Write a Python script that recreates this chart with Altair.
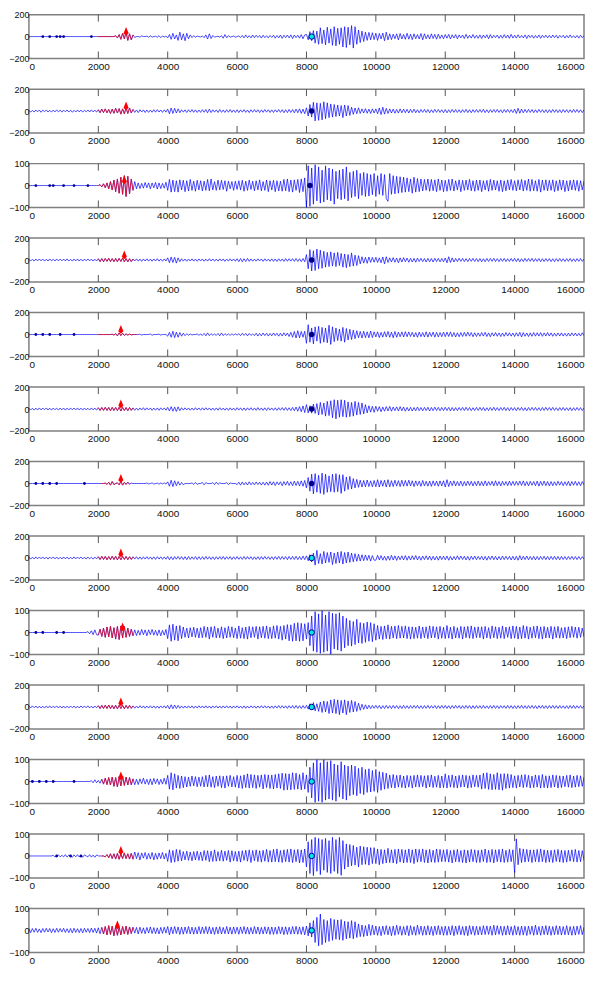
import altair as alt
import pandas as pd

# sample positions of every trace (one value every 50 samples)
sample_x = list(range(0, 16001, 50))
x_ticks = [0, 2000, 4000, 6000, 8000, 10000, 12000, 14000, 16000]

Z20 = [0, 0, 0, 0, 0, 0, 0, 0, 0, 0, 0, 0, 0, 0, 0, 0, 0, 0, 0, 0]

T1 = (Z20 + Z20 + [
    0,0,0,0,0,0,0,0,0,0, 8,-12,18,-25,30,-20,40,-35,25,-30,
    15,-8,0,0,-5,6,0,0,4,-6, 8,-5,0,3,-6,8,-10,6,-4,5,
    -12,18,-25,30,-22,15,-35,40,-30,25, -38,30,-20,15,-10,8,-6,5,0,-4,
    6,-10,15,-22,25,-18,10,-6,0,3, -5,8,-15,18,-12,8,-5,0,4,-6,
    0,5,-8,10,-12,15,-10,8,-12,14, -10,12,-8,10,-14,12,-10,8,-12,10,
    -8,12,-15,10,-12,14,-16,12,-10,14, -12,15,-18,14,-10,12,-15,18,-20,15,
    20,-30,45,-38,55,-60,50,-70,80,-65, 60,-75,85,-60,70,-80,90,-85,75,-70,
    80,-95,90,-100,85,-75,100,-105,90,-70, 60,-55,50,-45,40,-35,38,-30,35,-28,
    30,-35,28,-22,32,-38,40,-30,25,-28, 22,-20,25,-30,28,-22,20,-25,30,-24,
    22,-28,25,-20,18,-22,28,-30,25,-20, 16,-22,25,-18,20,-24,22,-18,15,-20,
    18,-15,20,-22,16,-14,18,-20,15,-12, 14,-18,20,-16,12,-14,18,-15,12,-16,
    15,-18,14,-12,16,-20,18,-14,12,-10, 14,-16,12,-15,18,-12,14,-16,20,-14,
    12,-14,16,-12,10,-12,15,-18,14,-10, 12,-15,10,-12,14,-16,12,-10,13,-12,
    10,-12,14,-10,12,-15,10,-8,12,-14, 10,-12,15,-10,8,-12,10,-14,12,-10,
    8])
T2 = [
    8,-10,6,-9,10,-7,9,-11,8,-6, 10,-9,7,-10,9,-8,11,-7,8,-10,
    9,-7,10,-9,8,-11,7,-9,10,-8, 9,-10,8,-7,10,-9,11,-8,9,-10,
    12,-15,18,-14,20,-16,15,-22,18,-20, 25,-18,22,-28,20,-25,30,-22,28,-18,
    15,-12,10,-14,12,-9,11,-13,10,-12, 9,-11,12,-10,13,-9,10,-12,11,-10,
    18,-25,28,-22,25,-18,20,-15,12,-10, 11,-13,12,-10,14,-12,11,-13,10,-12,
    13,-11,14,-16,18,-14,12,-10,11,-13, 14,-12,10,-13,12,-11,14,-12,10,-13,
    12,-14,11,-10,13,-12,10,-14,12,-11, 13,-10,12,-14,11,-12,14,-10,12,-13,
    11,-13,12,-10,14,-12,13,-15,12,-14, 15,-13,14,-16,18,-15,20,-22,18,-25,
    30,-45,60,-55,80,-90,75,-85,70,-80, 85,-70,75,-60,65,-55,60,-50,55,-45,
    50,-60,55,-45,50,-40,35,-30,28,-25, 30,-22,20,-18,22,-20,18,-22,20,-18,
    20,-25,28,-32,35,-28,25,-22,20,-18, 18,-20,15,-18,20,-16,18,-15,16,-18,
    16,-14,18,-15,12,-16,14,-12,15,-13, 14,-16,12,-14,15,-12,14,-13,12,-15,
    14,-16,12,-14,15,-12,14,-13,12,-15, 13,-12,16,-14,12,-15,13,-12,14,-12,
    14,-12,16,-14,12,-15,13,-12,14,-12, 15,-13,12,-16,14,-12,15,-13,12,-14,
    18,-22,25,-20,18,-16,15,-14,16,-13, 14,-15,12,-14,15,-12,13,-14,12,-15,
    12,-14,15,-12,13,-14,12,-15,14,-12, 13,-14,12,-13,15,-12,14,-13,12,-14,
    10]
T3 = (Z20 + Z20 + [
    0,4,-6,8,-10,12,-15,18,-20,25, -28,30,-35,38,-40,45,-50,42,-38,30,
    -22,18,-15,12,-14,10,-12,14,-10,12, -15,12,-10,14,-16,12,-14,10,-12,15,
    -22,28,-30,25,-28,22,-30,26,-20,24, -28,22,-25,28,-22,20,-26,24,-20,22,
    -25,20,-22,28,-24,30,-20,18,-22,25, -20,24,-18,22,-26,20,-15,18,-22,20,
    -18,22,-20,24,-26,20,-22,25,-18,20, -24,22,-20,26,-24,18,-22,25,-28,22,
    -20,24,-28,22,-25,20,-26,28,-24,30, -28,25,-30,26,-22,28,-32,30,-28,35,
    -100,90,-95,80,-85,95,-70,85,-80,70, -75,90,-65,80,-70,75,-85,65,-60,70,
    -65,75,-60,85,-70,60,-55,65,-50,70, -60,55,-45,60,-50,55,-48,50,-42,55,
    -50,45,-40,55,-45,50,-60,-72,55,-40, 45,-38,42,-35,40,-32,38,-30,35,-28,
    30,-35,38,-30,32,-28,30,-25,28,-22, 30,-26,28,-24,26,-28,30,-22,25,-28,
    24,-26,28,-22,30,-25,22,-20,26,-28, 24,-22,25,-20,28,-24,22,-26,25,-22,
    25,-28,22,-20,24,-26,28,-22,25,-20, 22,-26,25,-28,22,-24,26,-20,28,-22,
    22,-24,26,-20,28,-25,24,-22,30,-26, 28,-24,22,-26,28,-30,25,-22,26,-24,
    24,-22,26,-28,22,-24,26,-20,25,-28, 22,-25,24,-20,26,-22,24,-26,22,-20,
    20])
T4 = [
    8,-9,7,-10,9,-8,10,-7,9,-10, 8,-9,10,-8,7,-9,10,-8,9,-7,
    9,-8,10,-9,7,-10,9,-8,10,-9, 8,-10,9,-7,10,-8,9,-10,8,-9,
    12,-14,13,-15,14,-12,16,-14,13,-15, 14,-16,15,-13,18,-15,14,-16,12,-14,
    10,-9,11,-10,9,-12,10,-9,11,-10, 9,-11,10,-9,12,-10,9,-11,10,-9,
    20,-25,28,-22,25,-28,20,-15,12,-10, 9,-11,10,-9,11,-10,9,-11,10,-9,
    10,-11,9,-10,12,-9,10,-11,9,-10, 11,-9,10,-12,9,-10,11,-9,10,-11,
    12,-15,14,-16,12,-14,15,-12,10,-11, 9,-10,11,-9,10,-12,11,-10,9,-11,
    11,-12,10,-13,12,-11,10,-12,13,-11, 12,-10,13,-12,14,-13,12,-15,14,-16,
    50,-80,95,-100,85,-95,100,-80,90,-75, 80,-65,70,-60,75,-55,65,-60,70,-50,
    60,-65,55,-70,50,-60,65,-55,45,-50, 40,-35,30,-28,25,-30,28,-22,25,-20,
    25,-22,20,-25,28,-35,30,-22,20,-18, 22,-20,18,-25,20,-18,22,-16,18,-20,
    16,-18,15,-20,18,-14,16,-15,14,-18, 15,-16,14,-18,16,-14,15,-17,14,-16,
    18,-25,30,-22,20,-18,15,-14,16,-12, 15,-14,13,-15,14,-12,15,-13,14,-15,
    14,-16,12,-15,14,-13,15,-12,16,-14, 13,-15,14,-12,15,-14,12,-13,14,-12,
    16,-15,14,-16,12,-14,15,-13,14,-12, 15,-14,13,-12,14,-15,12,-14,13,-12,
    13,-14,12,-15,13,-12,14,-13,12,-14, 13,-12,14,-13,12,-14,13,-12,14,-13,
    10]
T5 = (Z20 + Z20 + [
    0,0,0,0,0,0,0,0,3,-5, 8,-12,15,-10,12,-8,6,-5,4,-3,
    0,0,0,0,4,-5,0,0,0,0, 5,-6,0,0,0,4,-5,0,0,0,
    -15,20,-25,30,-28,22,-25,18,-15,12, -10,8,-6,5,-4,0,0,5,-6,4,
    -8,10,-12,15,-10,8,-6,5,-8,10, -12,14,-10,8,-6,5,-8,6,-5,6,
    -5,8,-10,12,-8,10,-12,10,-8,6, -10,12,-14,10,-12,14,-10,12,-14,10,
    -12,14,-10,12,-15,12,-14,16,-12,14, -18,20,-25,28,-32,35,-30,28,-25,30,
    -80,90,-70,60,-85,70,-60,75,-80,65, -70,60,-75,85,-90,70,-65,60,-55,50,
    -60,65,-70,55,-50,48,-45,40,-38,35, -30,28,-32,30,-28,25,-30,32,-28,25,
    -22,25,-28,20,-24,26,-22,28,-25,22, -30,28,-25,22,-20,24,-22,26,-20,24,
    -18,20,-22,18,-25,22,-20,18,-22,25, -24,20,-18,22,-24,20,-22,18,-20,22,
    -20,22,-18,24,-20,18,-22,16,-20,18, -18,20,-16,22,-15,18,-20,16,-18,15,
    -16,18,-14,20,-18,15,-20,16,-14,18, -16,15,-18,14,-16,18,-14,16,-15,14,
    -18,16,-15,20,-22,18,-16,14,-18,15, -16,18,-15,16,-14,18,-16,15,-14,18,
    -14,15,-16,12,-15,14,-13,15,-14,12, -15,13,-14,15,-12,14,-13,12,-14,16,
    -10])
T6 = [
    8,-9,7,-10,8,-9,10,-8,9,-7, 10,-9,8,-10,9,-7,8,-10,9,-8,
    9,-10,8,-9,10,-7,9,-8,10,-9, 8,-10,9,-8,7,-9,10,-8,9,-10,
    12,-13,14,-12,15,-13,14,-16,15,-13, 14,-15,16,-18,15,-14,13,-15,14,-12,
    10,-12,9,-11,10,-9,12,-10,11,-9, 10,-12,9,-11,10,-12,11,-9,10,-11,
    15,-18,22,-20,18,-22,20,-15,12,-10, 11,-9,10,-11,9,-10,12,-9,10,-11,
    11,-10,12,-9,10,-11,9,-12,10,-11, 12,-10,9,-11,10,-12,11,-10,9,-12,
    12,-10,11,-12,10,-13,11,-10,12,-11, 10,-12,13,-11,10,-12,11,-13,12,-10,
    10,-12,11,-13,12,-11,13,-12,14,-13, 12,-14,15,-16,18,-20,22,-25,28,-32,
    40,-35,30,-38,45,-40,50,-55,60,-50, 55,-65,70,-60,75,-80,85,-90,80,-75,
    85,-70,80,-75,65,-70,60,-65,70,-55, 60,-50,55,-45,40,-35,30,-28,25,-30,
    25,-20,22,-25,18,-20,22,-18,24,-20, 18,-15,20,-18,22,-16,18,-20,15,-18,
    16,-18,14,-16,18,-15,14,-17,15,-14, 16,-18,14,-15,17,-14,15,-16,14,-15,
    16,-14,15,-18,14,-16,13,-15,14,-12, 15,-14,16,-13,14,-15,12,-14,15,-13,
    15,-13,14,-16,12,-15,14,-13,16,-14, 13,-15,14,-12,15,-14,13,-16,14,-12,
    13,-15,14,-12,15,-14,12,-16,14,-13, 15,-12,14,-13,12,-15,14,-13,15,-12,
    14,-12,15,-13,12,-14,13,-12,14,-13, 12,-14,13,-15,12,-13,14,-12,13,-14,
    10]
T7 = (Z20 + Z20 + [
    0,0,0,0,4,-8,12,-15,18,-10, 0,6,-12,20,-15,10,-8,12,-6,4,
    0,0,0,0,0,0,0,0,5,-4, 0,6,-5,0,4,-6,5,-4,6,-5,
    15,-25,30,-28,25,-20,18,-15,10,-12, 0,0,0,0,6,-8,10,-8,0,0,
    10,-12,8,0,0,0,8,-10,12,-8, 6,0,0,0,8,-10,6,0,0,0,
    -10,12,-15,14,-12,10,-14,16,-12,10, -12,14,-10,12,-14,12,-15,14,-16,18,
    -14,16,-18,15,-12,16,-20,18,-15,20, -18,16,-20,22,-18,20,-22,24,-25,28,
    -40,55,-70,85,-95,90,-80,75,-90,95, -100,85,-80,70,-75,85,-80,90,-75,80,
    -90,80,-70,60,-55,65,-50,45,-40,38, -35,30,-32,28,-30,32,-28,25,-30,28,
    -30,35,-32,28,-25,30,-32,35,-30,26, -28,30,-24,26,-28,30,-25,28,-24,30,
    -22,25,-28,24,-20,22,-26,28,-22,20, -24,22,-26,24,-20,22,-25,24,-22,25,
    -32,35,-28,22,-20,24,-22,18,-20,22, -24,18,-20,22,-18,20,-22,18,-20,22,
    -20,18,-22,24,-20,18,-16,20,-22,25, -20,18,-22,20,-16,18,-20,22,-18,20,
    -18,20,-16,22,-18,24,-20,18,-22,20, -16,18,-20,22,-24,20,-18,22,-20,18,
    -22,18,-20,16,-18,20,-15,18,-20,16, -18,20,-22,18,-16,20,-18,16,-20,18,
    -12])
T8 = [
    8,-10,7,-9,10,-8,9,-7,10,-9, 8,-10,9,-7,10,-8,9,-10,7,-9,
    10,-8,9,-10,7,-9,10,-8,9,-7, 10,-9,8,-10,9,-8,7,-10,9,-8,
    12,-14,15,-13,14,-16,13,-15,16,-14, 15,-17,14,-16,15,-13,14,-15,12,-13,
    11,-10,12,-11,10,-12,11,-10,12,-11, 10,-12,11,-13,12,-10,11,-12,10,-11,
    14,-16,12,-15,13,-11,14,-12,13,-14, 12,-15,14,-13,11,-12,13,-14,12,-13,
    12,-13,14,-11,12,-13,11,-14,12,-11, 13,-12,14,-13,12,-11,13,-14,11,-12,
    13,-12,11,-13,14,-12,13,-11,12,-14, 11,-13,12,-14,13,-12,14,-11,12,-13,
    12,-14,13,-12,15,-13,14,-12,13,-15, 14,-13,15,-14,16,-15,14,-16,18,-15,
    20,-25,30,-35,45,-65,70,-50,40,-55, 60,-45,50,-40,55,-60,45,-50,55,-45,
    60,-55,50,-45,55,-40,45,-35,40,-30, 35,-28,30,-25,28,-22,25,-28,22,-20,
    -20,25,-18,22,-20,16,-22,18,-20,24, -18,20,-22,18,-16,20,-18,22,-20,18,
    -18,20,-15,22,-18,16,-20,18,-15,20, -16,18,-20,15,-18,16,-20,18,-15,16,
    -16,18,-20,15,-18,14,-16,20,-15,18, -14,16,-18,15,-20,16,-14,18,-16,15,
    -14,16,-18,15,-20,16,-14,18,-16,15, -18,14,-16,18,-15,16,-14,15,-18,16,
    -18,16,-20,22,-18,16,-15,18,-16,14, -16,15,-18,14,-16,15,-14,16,-15,14,
    -16,15,-14,16,-15,14,-16,15,-14,13, -15,14,-13,15,-14,13,-15,14,-13,12,
    -10]
T9 = (Z20 + [
    0,0,0,0,0,0,0,0,0,0, 0,0,0,0,4,-6,8,-10,12,-10,
    -12,15,-18,20,-22,25,-20,28,-25,22, -30,28,-32,30,-25,28,-22,20,-18,15,
    -15,12,-14,10,-12,14,-10,12,-15,12, -10,14,-12,10,-14,12,-15,10,-12,14,
    -28,35,-40,38,-35,30,-38,32,-28,25, -22,20,-25,22,-20,24,-22,20,-25,22,
    -24,28,-22,25,-30,26,-22,28,-25,20, -24,26,-28,22,-25,28,-22,26,-24,20,
    -28,30,-26,22,-28,25,-30,28,-24,26, -22,28,-30,26,-24,28,-26,30,-28,24,
    -28,30,-26,32,-30,28,-35,32,-30,36, -38,35,-40,42,-38,45,-40,42,-38,40,
    -30,45,-60,75,-85,95,-90,85,-95,100, -90,80,-85,95,-100,88,-75,85,-80,90,
    -85,75,-70,65,-60,55,-62,50,-55,60, -48,45,-50,42,-45,48,-40,45,-42,40,
    -35,32,-30,28,-32,30,-28,35,-30,28, -25,30,-28,32,-26,28,-25,30,-28,26,
    -30,26,-28,24,-26,30,-28,25,-24,26, -28,30,-25,28,-24,26,-30,28,-26,24,
    -28,32,-26,24,-30,28,-25,22,-26,28, -30,26,-24,28,-26,30,-28,25,-24,26,
    -24,26,-30,28,-25,22,-28,30,-24,26, -28,24,-26,30,-28,25,-22,26,-28,30,
    -26,28,-30,25,-28,32,-26,28,-30,24, -26,28,-24,30,-28,26,-30,28,-25,24,
    -25,28,-30,26,-24,28,-26,22,-25,24, -28,26,-24,28,-22,25,-26,24,-22,20,
    -20])
T10 = [
    8,-9,10,-7,9,-10,8,-9,7,-10, 9,-8,10,-9,8,-7,10,-9,8,-10,
    9,-10,8,-9,10,-7,9,-10,8,-9, 10,-8,9,-7,10,-9,8,-10,9,-8,
    12,-14,15,-13,16,-14,18,-15,14,-16, 15,-17,16,-14,15,-16,14,-13,15,-12,
    10,-11,9,-10,12,-9,10,-11,9,-10, 11,-9,10,-12,9,-11,10,-9,11,-10,
    15,-18,20,-16,18,-14,15,-12,10,-11, 9,-10,11,-9,10,-11,9,-10,11,-9,
    10,-9,11,-10,9,-11,10,-9,11,-10, 9,-11,10,-9,11,-10,9,-11,10,-9,
    11,-10,9,-11,10,-12,9,-10,11,-9, 10,-11,9,-10,12,-9,11,-10,9,-11,
    10,-12,11,-10,13,-11,12,-10,11,-13, 12,-11,13,-12,14,-13,12,-14,13,-12,
    15,-20,30,-25,40,-35,30,-40,45,-50, 55,-45,50,-60,65,-55,70,-60,65,-70,
    60,-55,65,-70,55,-50,60,-45,50,-40, 35,-30,25,-22,20,-18,16,-15,14,-12,
    15,-12,14,-16,12,-14,15,-13,12,-15, 14,-12,13,-15,12,-14,15,-13,12,-14,
    13,-12,14,-11,15,-13,12,-14,13,-12, 14,-13,12,-11,13,-14,12,-13,14,-12,
    14,-13,12,-15,13,-12,14,-11,13,-14, 12,-13,14,-12,13,-15,12,-14,13,-12,
    12,-13,14,-12,11,-14,13,-12,14,-13, 12,-14,13,-11,12,-13,14,-12,13,-14,
    12,-14,13,-12,15,-13,12,-14,13,-12, 14,-13,12,-15,13,-12,14,-13,12,-14,
    13,-12,14,-13,12,-14,13,-12,11,-13, 12,-14,13,-12,14,-13,12,-11,13,-12,
    10]
T11 = (Z20 + [
    0,0,0,0,0,0,0,0,0,0, 0,0,0,0,0,0,4,-6,8,-6,
    5,-8,10,-12,15,-14,18,-16,20,-22, 18,-25,22,-20,25,-18,20,-16,18,-15,
    12,-15,10,-14,12,-10,15,-12,10,-14, 12,-15,14,-10,12,-14,10,-12,15,-13,
    28,-35,40,-38,35,-30,28,-32,25,-28, 22,-25,20,-22,25,-20,22,-24,20,-22,
    22,-25,28,-24,30,-26,22,-28,25,-22, 26,-28,24,-30,26,-22,28,-25,22,-26,
    28,-30,26,-32,30,-28,35,-30,32,-28, 30,-32,28,-26,30,-34,32,-28,30,-32,
    30,-34,32,-30,35,-32,38,-40,36,-38, 35,-38,40,-36,38,-35,32,-38,40,-35,
    30,-50,65,-75,85,-95,100,-90,85,-95, 100,-85,90,-80,95,-85,80,-90,75,-70,
    90,-80,75,-85,70,-65,75,-60,70,-65, 60,-55,65,-60,55,-50,58,-48,50,-45,
    55,-50,45,-40,42,-35,38,-32,30,-28, 32,-30,28,-26,30,-28,25,-30,28,-26,
    26,-30,28,-25,30,-26,28,-24,26,-30, 28,-25,30,-28,24,-26,28,-30,25,-28,
    35,-30,28,-26,30,-28,25,-30,28,-26, 30,-25,28,-30,26,-28,30,-24,28,-26,
    30,-35,38,-32,40,-36,35,-38,32,-36, 40,-38,35,-40,36,-32,35,-30,32,-28,
    26,-30,28,-25,30,-28,32,-26,28,-30, 25,-28,30,-26,28,-30,32,-28,26,-30,
    26,-28,30,-25,28,-30,26,-28,25,-24, 28,-26,30,-28,25,-26,28,-24,26,-22,
    20])
T12 = [
    0,0,0,0,0,0,0,0,0,0, 0,0,0,0,3,-4,0,5,-4,3,
    -4,6,-5,4,0,-6,5,-4,6,-5, 4,-6,5,0,-4,6,-5,4,-6,5,
    0,0,0,0,-4,6,-8,10,-12,10, -14,12,-15,10,-12,14,-12,10,-14,12,
    -15,18,-12,15,-18,14,-10,16,-15,12, -14,16,-18,12,-15,14,-12,16,-14,12,
    -25,28,-30,25,-28,30,-24,28,-22,20, -18,22,-20,18,-22,20,-18,22,-20,18,
    -22,25,-20,24,-26,22,-25,28,-24,20, -22,26,-24,22,-20,25,-28,24,-22,20,
    -25,22,-28,24,-20,26,-24,28,-30,25, -22,28,-26,24,-28,26,-24,30,-28,25,
    -28,30,-26,32,-28,25,-30,28,-26,30, -28,32,-30,28,-26,30,-32,28,-30,32,
    -50,65,-80,75,-90,85,-70,80,-85,75, -65,80,-75,70,-80,85,-70,75,-80,85,
    -88,70,-60,55,-50,52,-45,48,-42,40, -50,45,-40,42,-38,40,-42,38,-35,38,
    -35,32,-40,30,-35,28,-32,35,-30,28, -32,30,-35,32,-28,30,-32,28,-30,32,
    -30,28,-35,32,-28,30,-26,32,-30,28, -32,30,-28,26,-30,32,-28,30,-26,28,
    -26,30,-28,25,-32,28,-26,30,-28,25, -30,28,-32,26,-28,30,-26,28,-30,26,
    -30,28,-25,32,-30,26,-28,30,-32,28, -26,30,-28,32,-30,26,-28,30,-26,28,
    -75,78,-40,35,-30,32,-28,30,-26,28, -30,28,-26,30,-28,32,-26,28,-30,26,
    -28,26,-30,28,-25,30,-28,26,-30,25, -28,26,-24,28,-26,30,-28,25,-26,24,
    -20]
T13 = [
    8,-10,9,-8,10,-9,7,-10,9,-8, 10,-7,9,-10,8,-9,10,-8,9,-7,
    10,-9,8,-10,9,-11,10,-9,8,-10, 9,-11,10,-8,9,-10,11,-9,10,-12,
    12,-15,14,-16,18,-20,22,-18,20,-24, 18,-22,15,-20,18,-16,20,-18,16,-14,
    15,-12,14,-16,15,-13,12,-15,14,-12, 16,-14,13,-15,12,-16,14,-13,15,-12,
    18,-20,16,-15,18,-14,16,-18,15,-17, 16,-14,18,-16,15,-17,14,-16,18,-15,
    16,-14,18,-15,17,-16,14,-18,16,-15, 17,-16,14,-15,18,-16,15,-17,16,-14,
    15,-17,16,-14,18,-16,15,-17,14,-16, 18,-15,16,-17,14,-16,17,-15,16,-18,
    16,-18,15,-17,18,-15,16,-19,17,-18, 15,-17,18,-16,19,-17,16,-18,17,-20,
    20,-25,35,-30,45,-55,60,-70,75,-65, 50,-55,45,-50,55,-45,50,-40,48,-42,
    50,-45,42,-38,40,-35,45,-38,40,-32, 30,-28,25,-28,22,-25,28,-22,24,-20,
    20,-22,18,-24,20,-18,22,-20,18,-24, 20,-22,24,-18,20,-22,18,-20,22,-24,
    22,-20,18,-22,24,-18,20,-22,19,-21, 22,-20,18,-23,20,-19,22,-20,18,-22,
    20,-22,18,-20,22,-24,20,-18,22,-20, 18,-22,20,-24,22,-18,20,-22,19,-20,
    18,-20,22,-19,21,-18,20,-22,24,-20, 22,-18,20,-22,19,-21,22,-20,18,-22,
    22,-20,18,-22,20,-21,19,-23,20,-18, 20,-22,24,-20,18,-22,20,-19,22,-20,
    20,-22,18,-20,22,-19,20,-21,18,-20, 22,-20,18,-22,19,-21,20,-18,22,-19,
    15]

traces = [T1, T2, T3, T4, T5, T6, T7, T8, T9, T10, T11, T12, T13]
y_limits = [200, 200, 100, 200, 200, 200, 200, 200, 100, 200, 100, 100, 100]
red_start = [2000, 2000, 2000, 2000, 2000, 2000, 2100, 2000, 2000, 2000, 2100, 2100, 2100]
red_end = [3000, 3000, 3000, 3000, 3100, 3000, 2900, 3000, 3000, 3000, 3000, 3000, 3000]
pick_x = [2800, 2800, 2750, 2750, 2650, 2650, 2650, 2650, 2700, 2650, 2650, 2650, 2550]
pick_y = [35, 35, 20, 35, 35, 35, 35, 35, 20, 35, 20, 20, 20]
event_x = [8150, 8150, 8100, 8150, 8150, 8150, 8150, 8150, 8150, 8150, 8150, 8150, 8150]
event_kind = ["cyan", "navy", "navy", "navy", "navy", "navy", "navy",
              "cyan", "cyan", "cyan", "cyan", "cyan", "cyan"]
dots_x = [[400, 600, 800, 900, 1000, 1800], [], [200, 600, 700, 1000, 1300, 1700], [],
          [200, 400, 600, 900, 1300], [], [200, 400, 600, 800, 1600], [],
          [200, 400, 800, 1000], [], [100, 300, 500, 700, 1300], [800, 1200, 1500], []]

FONT = "Liberation Sans"
PICK_SHAPE = "M0,-1L0.45,0.1L0,0.55L-0.45,0.1Z"

W, H = 557, 44


def panel(i):
    lim = y_limits[i]
    vals = traces[i]
    n = min(len(vals), len(sample_x))
    df = pd.DataFrame({"x": sample_x[:n], "y": vals[:n]})
    red_df = df[(df.x >= red_start[i]) & (df.x <= red_end[i])]
    xs = alt.X("x:Q", title=None,
               scale=alt.Scale(domain=[0, 16000], nice=False, zero=False),
               axis=alt.Axis(values=x_ticks, format="d", tickSize=0, labelPadding=3,
                             domain=False, grid=False, labelFont=FONT, labelFontSize=10,
                             labelColor="#111111", labelFlush=True,
                             minExtent=14, maxExtent=14))
    ys = alt.Y("y:Q", title=None,
               scale=alt.Scale(domain=[-lim, lim], nice=False, zero=False),
               axis=alt.Axis(values=[-lim, 0, lim], tickSize=0, labelPadding=0,
                             domain=False, grid=False, labelFont=FONT, labelFontSize=9,
                             labelColor="#111111", labelFlush=False,
                             minExtent=17, maxExtent=17))
    tick_df = pd.DataFrame({"x": x_ticks[1:-1]})
    top = alt.Chart(tick_df).mark_rule(color="#555555", strokeWidth=1).encode(
        x=xs, y=alt.value(0), y2=alt.value(7))
    bot = alt.Chart(tick_df).mark_rule(color="#555555", strokeWidth=1).encode(
        x=xs, y=alt.value(H - 7), y2=alt.value(H))
    blue = alt.Chart(df).mark_line(color="#0000ff", strokeWidth=0.7, clip=True).encode(
        x=xs, y=ys)
    red = alt.Chart(red_df).mark_line(color="#ff0000", strokeWidth=0.7, clip=True).encode(
        x=xs, y=ys)
    layers = [top, bot, blue, red]
    if dots_x[i]:
        ddf = pd.DataFrame({"x": dots_x[i], "y": [0] * len(dots_x[i])})
        layers.append(alt.Chart(ddf).mark_point(filled=True, color="#0000a0", size=8,
                                                opacity=1).encode(x=xs, y=ys))
    pdf = pd.DataFrame({"x": [pick_x[i]], "y": [pick_y[i]]})
    layers.append(alt.Chart(pdf).mark_point(shape=PICK_SHAPE, filled=True, color="#ff0000",
                                            size=130, opacity=1).encode(x=xs, y=ys))
    edf = pd.DataFrame({"x": [event_x[i]], "y": [0]})
    if event_kind[i] == "cyan":
        ev = alt.Chart(edf).mark_point(shape="circle", filled=True, fill="#00e5e5",
                                       stroke="#000080", strokeWidth=1, size=30, opacity=1)
    else:
        ev = alt.Chart(edf).mark_point(shape="circle", filled=True, color="#000080",
                                       size=30, opacity=1)
    layers.append(ev.encode(x=xs, y=ys))
    return alt.layer(*layers).properties(width=W, height=H)


chart = alt.vconcat(*[panel(i) for i in range(13)], spacing=30.75, bounds="flush").properties(
    padding={"left": -1, "top": 0, "right": 0, "bottom": 0},
    background="white",
).configure_view(stroke="#808080", strokeWidth=1.5)

chart.save("out.html", embed_options={"renderer": "svg", "actions": False})
